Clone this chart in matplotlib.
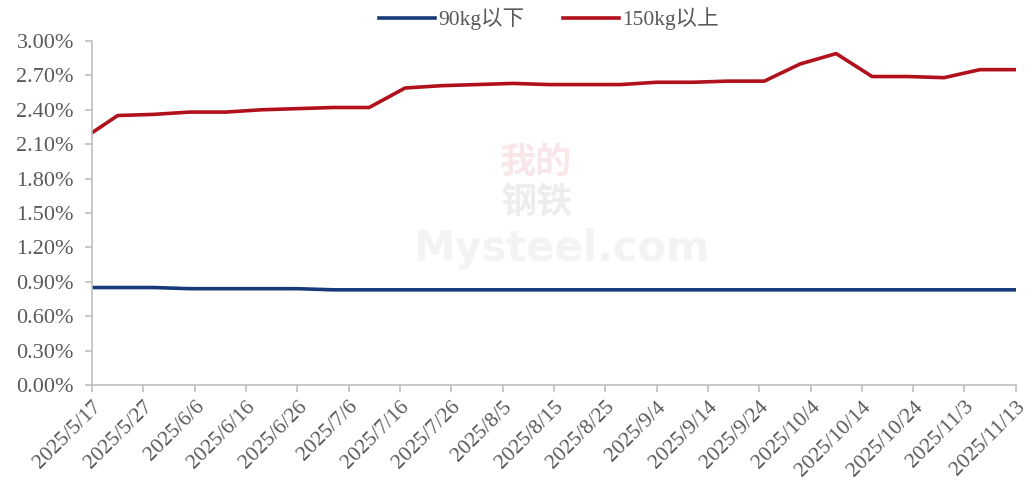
import numpy as np
import pandas as pd
import matplotlib
matplotlib.use("Agg")
import matplotlib.pyplot as plt
from matplotlib.ticker import FuncFormatter

# weekly data (first point is the start of the window)
dates = ["2025-05-17", "2025-05-22", "2025-05-29", "2025-06-05", "2025-06-12",
         "2025-06-19", "2025-06-26", "2025-07-03", "2025-07-10", "2025-07-17",
         "2025-07-24", "2025-07-31", "2025-08-07", "2025-08-14", "2025-08-21",
         "2025-08-28", "2025-09-04", "2025-09-11", "2025-09-18", "2025-09-25",
         "2025-10-02", "2025-10-09", "2025-10-16", "2025-10-23", "2025-10-30",
         "2025-11-06", "2025-11-13"]
below_90kg = [0.85, 0.85, 0.85, 0.84, 0.84, 0.84, 0.84, 0.83, 0.83, 0.83,
              0.83, 0.83, 0.83, 0.83, 0.83, 0.83, 0.83, 0.83, 0.83, 0.83,
              0.83, 0.83, 0.83, 0.83, 0.83, 0.83, 0.83]
above_150kg = [2.20, 2.35, 2.36, 2.38, 2.38, 2.40, 2.41, 2.42, 2.42, 2.59,
               2.61, 2.62, 2.63, 2.62, 2.62, 2.62, 2.64, 2.64, 2.65, 2.65,
               2.80, 2.89, 2.69, 2.69, 2.68, 2.75, 2.75]
series_names = ["90kg以下", "150kg以上"]
y_ticks = np.arange(0, 3.01, 0.3)

plt.rcParams['font.family'] = ['Liberation Serif', 'Noto Sans CJK SC']

x = pd.to_datetime(dates)
gray = '#595959'
axis_gray = '#BFBFBF'

fig = plt.figure(figsize=(10.25, 4.98), dpi=100)
ax = fig.add_axes([0.0898, 0.2269, 0.9012, 0.6908])

# faint watermark
fig.text(0.523, 0.675, "我的", color='#C8102E', alpha=0.10, fontsize=26,
         ha='center', va='center', family='Noto Sans CJK SC', fontweight='bold')
fig.text(0.523, 0.595, "钢铁", color='#555555', alpha=0.10, fontsize=26,
         ha='center', va='center', family='Noto Sans CJK SC', fontweight='bold')
fig.text(0.548, 0.5, "Mysteel.com", color='#555555', alpha=0.07, fontsize=30,
         ha='center', va='center', family='DejaVu Sans', fontweight='bold')

ax.plot(x, below_90kg, color='#173B7A', lw=2.6, label=series_names[0])
ax.plot(x, above_150kg, color='#B0111C', lw=2.6, label=series_names[1])

start, end = pd.Timestamp("2025-05-17"), pd.Timestamp("2025-11-13")
ax.set_xlim(start, end)
ax.set_ylim(0, 3.0)

ticks = pd.date_range(start, end, freq='10D')
ax.set_xticks(ticks)
ax.set_xticklabels([f"{t.year}/{t.month}/{t.day}" for t in ticks],
                   rotation=45, ha='right', rotation_mode='anchor')
ax.set_yticks(y_ticks)
ax.yaxis.set_major_formatter(FuncFormatter(lambda v, p: f"{v:.2f}%"))

for s in ['top', 'right']:
    ax.spines[s].set_visible(False)
for s in ['left', 'bottom']:
    ax.spines[s].set_color(axis_gray)
    ax.spines[s].set_linewidth(1.2)
ax.tick_params(axis='both', colors=axis_gray, labelcolor=gray,
               length=5, width=1.2)
ax.tick_params(axis='y', pad=8, labelsize=16)
ax.tick_params(axis='x', pad=4, labelsize=15.5)

leg = ax.legend(loc='lower center', bbox_to_anchor=(0.495, 1.0), ncol=2,
                frameon=False, fontsize=15.5, handlelength=2.6,
                columnspacing=1.8, handletextpad=0.15, borderaxespad=0.1)
for t in leg.get_texts():
    t.set_color(gray)

fig.savefig("out.png", dpi=100)
